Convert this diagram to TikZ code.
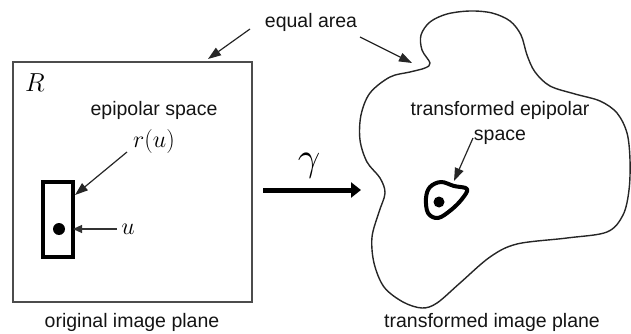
\RequirePackage{fix-cm}
\documentclass[tikz,border=0pt]{standalone}
\usepackage[no-math]{fontspec}
\newfontfamily\labfont{Liberation Sans}
\usetikzlibrary{arrows.meta}
\begin{document}
\begin{tikzpicture}[x=1pt,y=-1pt,
  lab/.style={font=\labfont\fontsize{19.5}{23}\selectfont, text=black!92, inner sep=0pt, anchor=base},
  mth/.style={font=\fontsize{24}{28}\selectfont, inner sep=0pt},
  thinarrow/.style={draw=black!85, line width=1.2pt, -{Triangle[length=13pt,width=9pt]}},
  smallarrow/.style={draw=black!80, line width=1.1pt, -{Triangle[length=9pt,width=8pt]}},
  plane/.style={draw=black!70, line width=1.5pt},
  blobline/.style={draw=black!85, line width=1.4pt, line join=round}]
\useasboundingbox (0,0) rectangle (631,334);

% original image plane
\draw[plane] (13,62) rectangle (252,302);
\node[mth, font=\fontsize{26}{30}\selectfont] (R) at (35,83) {$R$};
\node[lab] (eps) at (154,115) {epipolar space};
\node[mth] (ru) at (154,142) {$r(u)$};
\draw[line width=4pt, line join=miter] (43,182) rectangle (73,257);
\node[circle, fill=black, inner sep=0pt, minimum size=12pt] (dotu) at (59,229) {};
\node[mth] (u) at (128,229) {$u$};
\coordinate (rustart) at (127,152);
\coordinate (rutip) at (75,195);
\draw[thinarrow] (rustart) -- (rutip);
\coordinate (ustart) at (117,229);
\coordinate (utip) at (73,229);
\draw[smallarrow] (ustart) -- (utip);
\node[lab] (orig) at (132,327) {original image plane};

% equal area
\node[lab] (eqa) at (311,28) {equal area};
\coordinate (ea1s) at (250,29);
\coordinate (ea1t) at (208,59);
\coordinate (ea2s) at (360,37);
\coordinate (ea2t) at (412,63);
\draw[thinarrow] (ea1s) -- (ea1t);
\draw[thinarrow] (ea2s) -- (ea2t);

% gamma arrow
\node[mth, font=\fontsize{40}{44}\selectfont] (gam) at (309,166) {$\gamma$};
\coordinate (gs) at (263,190);
\coordinate (gt) at (361,190);
\draw[line width=5pt, -{Triangle[length=10pt,width=15pt]}] (gs) -- (gt);

% transformed plane blob
\draw[blobline] plot[smooth cycle, tension=0.55] coordinates {
 (430,63) (422,50) (421,35) (430,22) (447,14) (470,11) (492,13) (510,21)
 (521,35) (527,55) (535,72) (550,86) (575,94) (600,101) (617,113) (627,133)
 (630,160) (629,190) (623,215) (607,232) (567,238) (517,244) (490,257)
 (460,283) (437,303) (422,308) (403,302) (384,287) (374,263) (372,237)
 (379,212) (385,193) (380,178) (367,162) (360,140) (361,115) (370,93)
 (390,77) (410,72) (425,68)};

\node[lab] (tep1) at (500,115) {transformed epipolar};
\node[lab] (tep2) at (500,140) {space};
\draw[line width=4pt, line join=round] plot[smooth cycle, tension=0.6] coordinates {
 (426,198) (430,187) (441,182) (454,186) (467,189) (462,199) (451,210) (438,218) (428,213)};
\node[circle, fill=black, inner sep=0pt, minimum size=11pt] (dott) at (439,202) {};
\coordinate (tas) at (473,138);
\coordinate (tat) at (454,181);
\draw[thinarrow] (tas) -- (tat);
\node[lab] (trans) at (492,327) {transformed image plane};
\end{tikzpicture}
\end{document}
